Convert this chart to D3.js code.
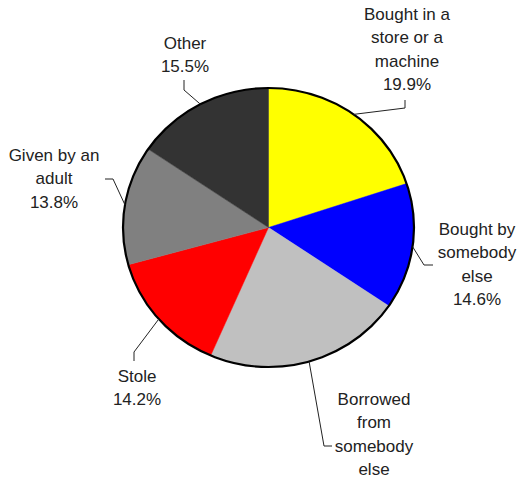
<!DOCTYPE html>
<html>
<head>
<meta charset="utf-8">
<script src="https://cdn.jsdelivr.net/npm/d3@7"></script>
<style>
	body { margin: 0; background: #fff; }
	text { font-family: "Liberation Sans", Arial, sans-serif; font-size: 17px; fill: #222; }
</style>
</head>
<body>
<svg id="chart"></svg>
<script>
const WIDTH = 519;
const HEIGHT = 481;

// slices, clockwise from 12 o'clock
const categories = ['Bought in a store or a machine', 'Bought by somebody else', 'Borrowed from somebody else', 'Stole', 'Given by an adult', 'Other'];
const values = [19.9, 14.6, 22.0, 14.2, 13.8, 15.5];
const labelLines = [
	['Bought in a', 'store or a', 'machine', '19.9%'],
	['Bought by', 'somebody', 'else', '14.6%'],
	['Borrowed', 'from', 'somebody', 'else'],
	['Stole', '14.2%'],
	['Given by an', 'adult', '13.8%'],
	['Other', '15.5%']
];
const colors = ['#ffff00', '#0000ff', '#c0c0c0', '#ff0000', '#808080', '#333333'];

// label layout: text centre x, first line centre y, leader elbow and end
const labelLayout = [
	{x: 407, y: 14, elbow: [405, 108], end: [405, 100]},
	{x: 477, y: 229, elbow: [424, 265], end: [433, 265]},
	{x: 374, y: 399, elbow: [324, 446], end: [332, 446]},
	{x: 137, y: 376, elbow: [134, 352], end: [134, 361]},
	{x: 54, y: 155, elbow: [113, 179], end: [105, 179]},
	{x: 185, y: 43, elbow: [184, 90], end: [184, 80]}
];

const CX = 268.5;
const CY = 227.5;
const RX = 145.5;
const RY = 139.5;
const LINE_H = 23.4;

const svg = d3.select('#chart')
	.attr('width', WIDTH)
	.attr('height', HEIGHT);

const slices = d3.pie().sort(null).value(d => d)(values);
const arc = d3.arc().innerRadius(0).outerRadius(RX);

svg.append('g')
	.attr('transform', `translate(${CX},${CY}) scale(1,${RY / RX})`)
	.selectAll('path')
	.data(slices)
	.enter()
	.append('path')
	.attr('d', arc)
	.attr('fill', (d, i) => colors[i])
	.attr('stroke', (d, i) => colors[i])
	.attr('stroke-width', 0.5);

svg.append('ellipse')
	.attr('cx', CX)
	.attr('cy', CY)
	.attr('rx', RX)
	.attr('ry', RY)
	.attr('fill', 'none')
	.attr('stroke', '#000')
	.attr('stroke-width', 2.2);

// leader lines start on the rim at each slice's middle angle
const anchor = d => {
	const a = (d.startAngle + d.endAngle) / 2;
	return [CX + RX * Math.sin(a), CY - RY * Math.cos(a)];
};

svg.append('g')
	.selectAll('path')
	.data(slices)
	.enter()
	.append('path')
	.attr('d', (d, i) => d3.line()([anchor(d), labelLayout[i].elbow, labelLayout[i].end]))
	.attr('fill', 'none')
	.attr('stroke', '#222')
	.attr('stroke-width', 1);

const labels = svg.append('g')
	.selectAll('text')
	.data(slices)
	.enter()
	.append('text')
	.attr('text-anchor', 'middle')
	.attr('aria-label', (d, i) => categories[i]);

labels.selectAll('tspan')
	.data((d, i) => labelLines[i].map(t => ({t, l: labelLayout[i]})))
	.enter()
	.append('tspan')
	.attr('x', d => d.l.x)
	.attr('y', (d, j) => d.l.y + j * LINE_H)
	.attr('dy', '0.35em')
	.text(d => d.t);
</script>
</body>
</html>
